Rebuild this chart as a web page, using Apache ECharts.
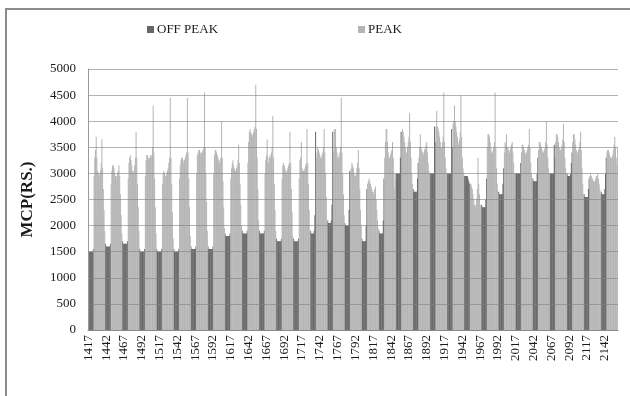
<!DOCTYPE html>
<html>
<head>
<meta charset="utf-8">
<script src="https://cdn.jsdelivr.net/npm/echarts@6/dist/echarts.min.js"></script>
<style>
  html, body { margin: 0; padding: 0; background: #fff; }
  #main { width: 630px; height: 396px; }
</style>
</head>
<body>
<div id="main"></div>
<script>
// hourly MCP for one month, hour numbers counted from start of year
const firstHour = 1417
const seriesNames = ['OFF PEAK', 'PEAK']

// hours 1-8 of each day (off peak), one row per day
const offPeakMcp = [
  [1550, 1500, 1500, 1500, 1500, 1500, 1500, 1550],
  [1650, 1600, 1600, 1600, 1600, 1600, 1600, 1650],
  [1700, 1650, 1650, 1650, 1650, 1650, 1650, 1700],
  [1550, 1500, 1500, 1500, 1500, 1500, 1500, 1550],
  [1550, 1500, 1500, 1500, 1500, 1500, 1500, 1550],
  [1550, 1500, 1500, 1500, 1500, 1500, 1500, 1550],
  [1600, 1550, 1550, 1550, 1550, 1550, 1550, 1600],
  [1600, 1550, 1550, 1550, 1550, 1550, 1550, 1600],
  [1850, 1800, 1800, 1800, 1800, 1800, 1800, 1850],
  [1900, 1850, 1850, 1850, 1850, 1850, 1850, 1900],
  [1900, 1850, 1850, 1850, 1850, 1850, 1850, 1900],
  [1750, 1700, 1700, 1700, 1700, 1700, 1700, 1750],
  [1750, 1700, 1700, 1700, 1700, 1700, 1700, 1750],
  [1900, 1850, 1850, 1850, 1850, 1900, 2200, 3800],
  [2100, 2050, 2050, 2050, 2050, 2100, 2400, 3800],
  [2050, 2000, 2000, 2000, 2000, 2000, 2300, 3050],
  [1750, 1700, 1700, 1700, 1700, 1700, 2000, 2700],
  [1900, 1850, 1850, 1850, 1850, 1850, 2100, 2900],
  [3000, 3000, 3000, 3000, 3000, 3000, 3300, 3800],
  [2700, 2650, 2650, 2650, 2650, 2650, 2900, 3200],
  [3000, 3000, 3000, 3000, 3000, 3000, 3900, 3600],
  [3000, 3000, 3000, 3000, 3000, 3000, 3850, 3500],
  [2950, 2950, 2950, 2950, 2950, 2900, 2850, 2800],
  [2400, 2350, 2350, 2350, 2350, 2350, 2500, 2900],
  [2650, 2600, 2600, 2600, 2600, 2600, 2800, 3100],
  [3000, 3000, 3000, 3000, 3000, 3000, 3000, 3200],
  [2900, 2850, 2850, 2850, 2850, 2850, 3000, 3300],
  [3000, 3000, 3000, 3000, 3000, 3000, 3550, 3300],
  [3000, 2950, 2950, 2950, 2950, 3000, 3200, 3400],
  [2600, 2550, 2550, 2550, 2550, 2550, 2700, 2900],
  [2650, 2600, 2600, 2600, 2600, 2700, 3000, 3300]
]

// hours 9-24 of each day (peak)
const peakMcp = [
  [2950, 3300, 3450, 3700, 3300, 3050, 3000, 2950, 3000, 3050, 3200, 3650, 3100, 2700, 2300, 1900],
  [2800, 3050, 3150, 3150, 3100, 3000, 2950, 2900, 2950, 3000, 3050, 3150, 2950, 2600, 2200, 1850],
  [2900, 3200, 3300, 3350, 3250, 3150, 3050, 3000, 3050, 3150, 3300, 3800, 3300, 2800, 2350, 1900],
  [2950, 3250, 3350, 3350, 3300, 3250, 3300, 3350, 3300, 3350, 3500, 4300, 3400, 2900, 2350, 1850],
  [2800, 3000, 3050, 3000, 2950, 2950, 3000, 3050, 3100, 3200, 3300, 4450, 3300, 2800, 2250, 1750],
  [2900, 3150, 3250, 3300, 3300, 3250, 3200, 3250, 3300, 3350, 3400, 4450, 3400, 2900, 2350, 1800],
  [3000, 3350, 3400, 3450, 3450, 3400, 3350, 3400, 3400, 3450, 3500, 4550, 3500, 3000, 2450, 1900],
  [3000, 3350, 3450, 3450, 3400, 3350, 3300, 3250, 3200, 3250, 3300, 4000, 3300, 2850, 2350, 1950],
  [2900, 3100, 3200, 3250, 3150, 3100, 3050, 3050, 3100, 3150, 3250, 3550, 3200, 2800, 2400, 2000],
  [3200, 3600, 3800, 3850, 3800, 3750, 3700, 3750, 3800, 3850, 3900, 4700, 3850, 3300, 2700, 2100],
  [3000, 3250, 3350, 3650, 3300, 3200, 3300, 3350, 3300, 3400, 3500, 4100, 3300, 2800, 2300, 1900],
  [2900, 3150, 3200, 3150, 3100, 3050, 3000, 3050, 3100, 3150, 3200, 3800, 3200, 2700, 2250, 1800],
  [2900, 3250, 3300, 3600, 3100, 3050, 3050, 3050, 3100, 3150, 3200, 3850, 3200, 2800, 2300, 1900],
  [3300, 3400, 3500, 3450, 3400, 3350, 3300, 3300, 3350, 3400, 3500, 3850, 3400, 3000, 2550, 2100],
  [3400, 3850, 3800, 3850, 3500, 3400, 3300, 3300, 3350, 3400, 3500, 4450, 3400, 3000, 2600, 2200],
  [3000, 3100, 3200, 3150, 3100, 3000, 2950, 2950, 3000, 3100, 3200, 3450, 3100, 2700, 2300, 2000],
  [2800, 2850, 2900, 2850, 2800, 2750, 2700, 2650, 2600, 2650, 2700, 2750, 2500, 2300, 2100, 1950],
  [3300, 3600, 3850, 3850, 3600, 3400, 3300, 3300, 3350, 3400, 3450, 3600, 3300, 3000, 2700, 2900],
  [3600, 3850, 3800, 3700, 3600, 3500, 3400, 3400, 3500, 3600, 3700, 4150, 3600, 3300, 3000, 2800],
  [3300, 3500, 3750, 3500, 3450, 3400, 3350, 3400, 3450, 3500, 3550, 3600, 3400, 3200, 3050, 3000],
  [3900, 4200, 3900, 3850, 3800, 3700, 3600, 3500, 3500, 3600, 3700, 4550, 3600, 3300, 3100, 3000],
  [3950, 4000, 4300, 4000, 3900, 3800, 3700, 3600, 3550, 3650, 3800, 4500, 3700, 3300, 3100, 3000],
  [2800, 2800, 2750, 2700, 2600, 2500, 2400, 2350, 2400, 2500, 2700, 3300, 2800, 2600, 2400, 2350],
  [3500, 3750, 3750, 3700, 3600, 3500, 3400, 3400, 3450, 3500, 3600, 4550, 3500, 3100, 2800, 2600],
  [3400, 3600, 3550, 3750, 3500, 3500, 3450, 3400, 3450, 3500, 3550, 3600, 3400, 3200, 3000, 3000],
  [3400, 3550, 3550, 3500, 3450, 3400, 3350, 3400, 3450, 3500, 3550, 3850, 3500, 3200, 3000, 2900],
  [3450, 3600, 3600, 3550, 3500, 3450, 3400, 3400, 3450, 3500, 3600, 4000, 3550, 3300, 3100, 3000],
  [3600, 3750, 3750, 3700, 3600, 3500, 3450, 3450, 3500, 3550, 3650, 3950, 3600, 3300, 3100, 3000],
  [3600, 3750, 3750, 3650, 3550, 3450, 3400, 3400, 3450, 3500, 3600, 3800, 3450, 3100, 2800, 2600],
  [2950, 3000, 2950, 2900, 2900, 2850, 2850, 2850, 2900, 2950, 2950, 3000, 2900, 2800, 2700, 2600],
  [3400, 3450, 3450, 3400, 3350, 3300, 3300, 3300, 3350, 3450, 3550, 3700, 3500, 3300, 3150, 3500]
]

// lay the day rows out hour by hour; an hour belongs to one series only
var categories = []
var offPeakData = []
var peakData = []
offPeakMcp.forEach(function(row, day) {
  var start = firstHour + day * 24
  row.forEach(function(v, h) {
    categories.push(String(start + h))
    offPeakData.push(v)
    peakData.push('-')
  })
  peakMcp[day].forEach(function(v, h) {
    categories.push(String(start + row.length + h))
    offPeakData.push('-')
    peakData.push(v)
  })
})

var serif = 'Liberation Serif, Times New Roman, serif'
var chart = echarts.init(document.getElementById('main'))

chart.setOption({
  animation: false,
  textStyle: { fontFamily: serif },
  graphic: [{
    type: 'rect',
    shape: { x: 6, y: 9, width: 700, height: 500 },
    style: { fill: 'none', stroke: '#8c8c8c', lineWidth: 2 },
    silent: true
  }],
  legend: {
    data: seriesNames,
    left: 142,
    top: 18,
    icon: 'rect',
    itemWidth: 7,
    itemHeight: 7,
    itemGap: 140,
    textStyle: { fontFamily: serif, fontSize: 13, color: '#1a1a1a', padding: [0, 0, 0, -2] }
  },
  grid: {
    left: 88,
    right: 12,
    top: 69,
    bottom: 66
  },
  xAxis: {
    type: 'category',
    data: categories,
    axisTick: { show: false },
    axisLine: { lineStyle: { color: '#999', width: 1 } },
    axisLabel: {
      interval: 24,
      rotate: 90,
      margin: 5,
      fontFamily: serif,
      fontSize: 13,
      color: '#1a1a1a'
    }
  },
  yAxis: {
    type: 'value',
    min: 0,
    max: 5000,
    interval: 500,
    z: 5,
    name: 'MCP(RS.)',
    nameLocation: 'middle',
    nameRotate: 90,
    nameGap: 52,
    nameTextStyle: { fontFamily: serif, fontSize: 17, fontWeight: 'bold', color: '#1a1a1a' },
    axisLine: { show: true, lineStyle: { color: '#999' } },
    axisTick: { show: false },
    axisLabel: {
      fontFamily: serif,
      fontSize: 13,
      color: '#1a1a1a',
      margin: 12,
      formatter: function(v) { return String(v) }
    },
    splitLine: { lineStyle: { color: 'rgba(128,128,128,0.6)', width: 1 } }
  },
  series: [{
    name: seriesNames[0],
    type: 'bar',
    data: offPeakData,
    barGap: '-100%',
    barCategoryGap: '0%',
    itemStyle: { color: '#666666' }
  }, {
    name: seriesNames[1],
    type: 'bar',
    data: peakData,
    barGap: '-100%',
    barCategoryGap: '0%',
    itemStyle: { color: '#b4b4b4' }
  }]
})
</script>
</body>
</html>
